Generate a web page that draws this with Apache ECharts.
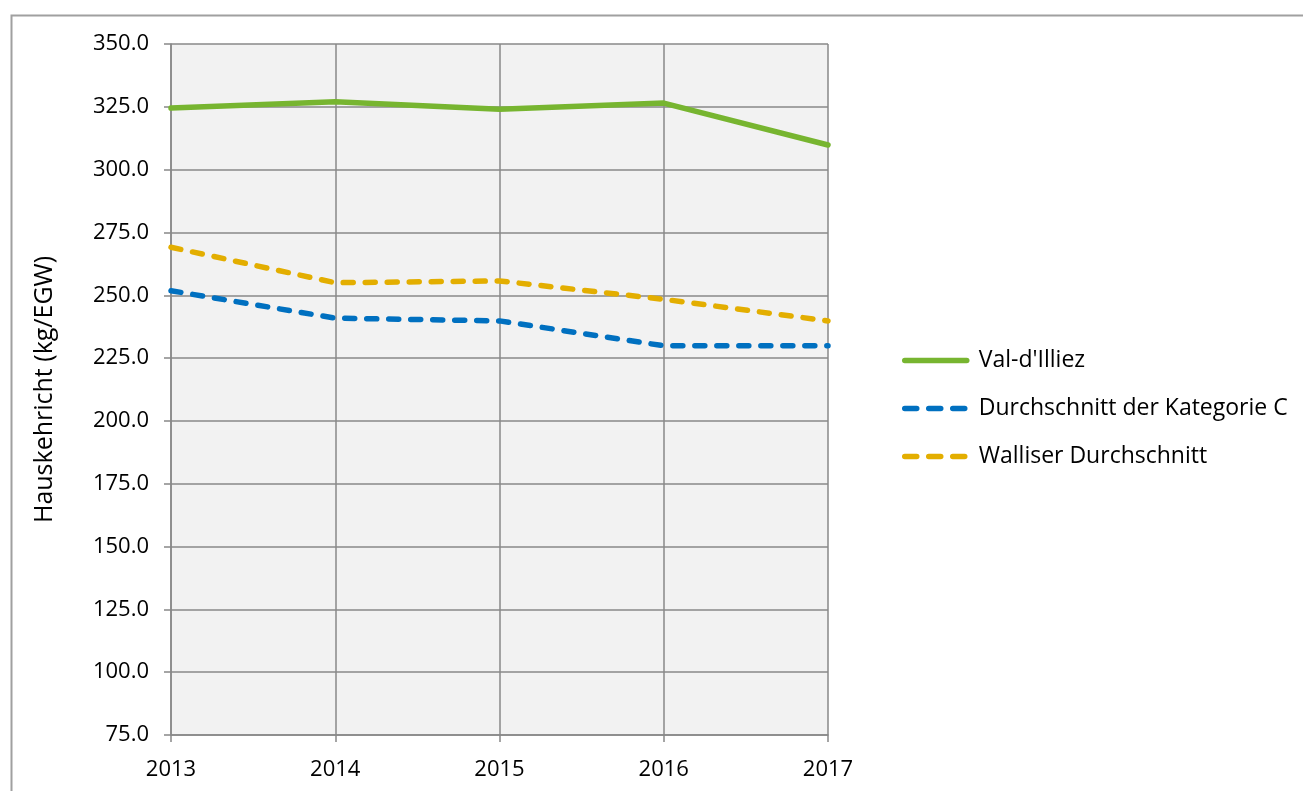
<!DOCTYPE html>
<html>
<head>
<meta charset="utf-8">
<script src="https://cdn.jsdelivr.net/npm/echarts@6/dist/echarts.min.js"></script>
<style>html,body{margin:0;padding:0;background:#fff}#c{width:1303px;height:791px}</style>
</head>
<body>
<div id="c"></div>
<script>
var years = ['2013', '2014', '2015', '2016', '2017'];
var valDIlliez = [324.5, 327.0, 324.0, 326.5, 309.8];
var kategorieC = [251.8, 240.9, 239.8, 229.9, 229.9];
var wallis = [269.1, 255.0, 255.7, 248.4, 239.8];
var seriesNames = ["Val-d'Illiez", 'Durchschnitt der Kategorie C', 'Walliser Durchschnitt'];
var yTitle = 'Hauskehricht (kg/EGW)';

var colors = ['#77b530', '#0070c0', '#e3ae00'];
var dash = [10, 12];
var legendDash = [12, 12];
var font = "'Open Sans', 'Noto Sans', sans-serif";
var chart = echarts.init(document.getElementById('c'));
chart.setOption({
  animation: false,
  backgroundColor: '#ffffff',
  graphic: [{
    type: 'rect', left: 9, top: 13,
    shape: { width: 1310, height: 800 },
    style: { fill: 'none', stroke: '#a0a0a0', lineWidth: 2 },
    z: 0
  }],
  grid: {
    left: 171, right: 475, top: 44, bottom: 56,
    show: true, backgroundColor: '#f2f2f2', borderWidth: 0
  },
  legend: {
    orient: 'vertical', left: 897, top: 344,
    itemWidth: 62, itemHeight: 14, itemGap: 25,
    textStyle: { fontFamily: font, fontSize: 23, color: '#000', padding: [0, 0, 0, 7] },
    itemStyle: { color: 'rgba(0,0,0,0)', borderWidth: 0, opacity: 0 },
    data: [
      { name: seriesNames[0], lineStyle: { width: 5.5, color: colors[0], cap: 'round' } },
      { name: seriesNames[1], lineStyle: { width: 5.5, color: colors[1], type: legendDash, cap: 'round' } },
      { name: seriesNames[2], lineStyle: { width: 5.5, color: colors[2], type: legendDash, cap: 'round' } }
    ]
  },
  xAxis: {
    type: 'category', data: years, boundaryGap: false,
    axisLine: { lineStyle: { color: '#888', width: 1.5 } },
    axisTick: { show: true, length: 7, lineStyle: { color: '#888', width: 1.5 } },
    splitLine: { show: true, lineStyle: { color: '#888', width: 1.5 } },
    axisLabel: { fontFamily: font, fontSize: 22, color: '#000', margin: 24 }
  },
  yAxis: {
    type: 'value', min: 75, max: 350, interval: 25,
    name: yTitle, nameLocation: 'middle', nameGap: 114, nameRotate: 90,
    nameTextStyle: { fontFamily: font, fontSize: 25, color: '#000' },
    axisLine: { show: true, lineStyle: { color: '#888', width: 1.5 } },
    axisTick: { show: true, length: 7, lineStyle: { color: '#888', width: 1.5 } },
    splitLine: { show: true, lineStyle: { color: '#888', width: 1.5 } },
    axisLabel: { fontFamily: font, fontSize: 22, color: '#000', margin: 22,
      formatter: function (v) { return v.toFixed(1); } }
  },
  series: [
    { name: seriesNames[0], type: 'line', data: valDIlliez, symbol: 'none',
      itemStyle: { color: colors[0] },
      lineStyle: { color: colors[0], width: 5.5, cap: 'round' } },
    { name: seriesNames[1], type: 'line', data: kategorieC, symbol: 'none',
      itemStyle: { color: colors[1] },
      lineStyle: { color: colors[1], width: 5.5, type: dash, cap: 'round' } },
    { name: seriesNames[2], type: 'line', data: wallis, symbol: 'none',
      itemStyle: { color: colors[2] },
      lineStyle: { color: colors[2], width: 5.5, type: dash, cap: 'round' } }
  ]
});
</script>
</body>
</html>
